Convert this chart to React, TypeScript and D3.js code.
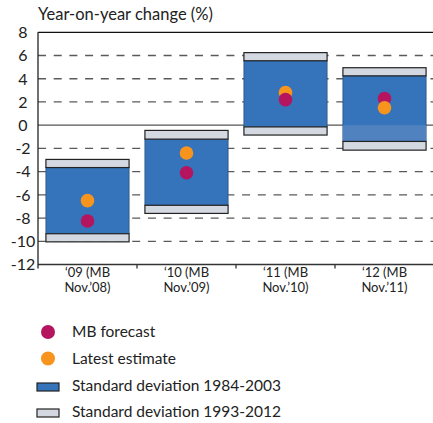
import React from "react";
import * as d3 from "d3";

const categoriesLine1 = ["‘09 (MB", "‘10 (MB", "‘11 (MB", "‘12 (MB"];
const categoriesLine2 = ["Nov.’08)", "Nov.’09)", "Nov.’10)", "Nov.’11)"];
const sd8403Low = [-9.35, -6.9, -0.15, -1.4];
const sd8403High = [-3.65, -1.2, 5.55, 4.25];
const sd9312Low = [-10.05, -7.6, -0.85, -2.15];
const sd9312High = [-2.95, -0.45, 6.25, 4.95];
const mbForecast = [-8.25, -4.1, 2.2, 2.3];
const latestEstimate = [-6.5, -2.4, 2.8, 1.5];
const yTicks = [8, 6, 4, 2, 0, -2, -4, -6, -8, -10, -12];
const legendLabels = ["MB forecast", "Latest estimate", "Standard deviation 1984-2003", "Standard deviation 1993-2012"];

const W = 433;
const H = 423;
const FONT = "Lato, 'Open Sans', sans-serif";
const BLUE = "#3574bb";
const BLUE_LIGHT = "#5082c0";
const GREY = "#d4d9e1";
const MAGENTA = "#b5145f";
const ORANGE = "#f7941e";

export default function App() {
  const left = 38;
  const right = 434;
  const top = 32.3;
  const bottom = 264.5;
  const x = d3.scaleBand<number>().domain(d3.range(categoriesLine1.length)).range([left, right]).padding(0);
  const y = d3.scaleLinear().domain([-12, 8]).range([bottom, top]);
  const bw = x.bandwidth() * 0.84;
  const r = 6.8;
  const fadedIndex = 3;

  return (
    <svg width={W} height={H} style={{ position: "absolute", left: 0, top: 0, fontFamily: FONT }}>
      <rect x={0} y={0} width={W} height={H} fill="#fff" />
      <text x={left} y={20} fontSize={16.5} fill="#222">Year-on-year change (%)</text>
      {yTicks.map((t) => (
        <g key={t}>
          <text x={23} y={y(t)} dy="0.36em" textAnchor="middle" fontSize={16} fill="#222">{t}</text>
          {t !== 8 && t !== 0 && t !== -12 && (
            <line x1={left} x2={right} y1={y(t)} y2={y(t)} stroke="#5a5a5a" strokeWidth={1.3} strokeDasharray="8,7.7" />
          )}
        </g>
      ))}
      <line x1={left} x2={right} y1={y(0)} y2={y(0)} stroke="#555" strokeWidth={1.2} />
      <line x1={left} x2={right} y1={y(8)} y2={y(8)} stroke="#111" strokeWidth={1.3} />
      <line x1={left} x2={right} y1={y(-12)} y2={y(-12)} stroke="#333" strokeWidth={1.3} />
      <line x1={left} x2={left} y1={y(8)} y2={y(-12) + 4} stroke="#222" strokeWidth={1.3} />
      {d3.range(1, categoriesLine1.length).map((i) => (
        <line key={i} x1={x(i)!} x2={x(i)!} y1={y(-12)} y2={y(-12) + 4} stroke="#333" strokeWidth={1.3} />
      ))}
      {categoriesLine1.map((c, i) => {
        const cx = x(i)! + x.bandwidth() / 2;
        const bx = cx - bw / 2;
        return (
          <g key={c}>
            <rect x={bx} y={y(sd8403High[i])} width={bw} height={y(sd8403Low[i]) - y(sd8403High[i])} fill={BLUE} stroke="#2a4f7e" strokeWidth={0.8} />
            {i === fadedIndex && sd8403Low[i] < 0 && (
              <rect x={bx} y={y(0)} width={bw} height={y(sd8403Low[i]) - y(0)} fill={BLUE_LIGHT} />
            )}
            <rect x={bx} y={y(sd9312High[i])} width={bw} height={y(sd8403High[i]) - y(sd9312High[i])} fill={GREY} stroke="#222" strokeWidth={1.2} />
            <rect x={bx} y={y(sd8403Low[i])} width={bw} height={y(sd9312Low[i]) - y(sd8403Low[i])} fill={GREY} stroke="#222" strokeWidth={1.2} />
            {Math.abs(latestEstimate[i] - mbForecast[i]) < 1 && latestEstimate[i] > mbForecast[i] ? (
              <>
                <circle cx={cx} cy={y(latestEstimate[i])} r={r} fill={ORANGE} />
                <circle cx={cx} cy={y(mbForecast[i])} r={r} fill={MAGENTA} />
              </>
            ) : (
              <>
                <circle cx={cx} cy={y(mbForecast[i])} r={r} fill={MAGENTA} />
                <circle cx={cx} cy={y(latestEstimate[i])} r={r} fill={ORANGE} />
              </>
            )}
            <text x={cx} y={276.5} textAnchor="middle" fontSize={13} fill="#222">{c}</text>
            <text x={cx} y={292.2} textAnchor="middle" fontSize={13} fill="#222">{categoriesLine2[i]}</text>
          </g>
        );
      })}
      <g>
        <circle cx={48} cy={332} r={7} fill={MAGENTA} />
        <text x={72} y={337} fontSize={15.5} fill="#222">{legendLabels[0]}</text>
        <circle cx={48} cy={358.5} r={7} fill={ORANGE} />
        <text x={72} y={364} fontSize={15.5} fill="#222">{legendLabels[1]}</text>
        <rect x={37} y={383} width={22} height={8} fill={BLUE} stroke="#222" strokeWidth={1.2} />
        <text x={72} y={391} fontSize={15.5} fill="#222">{legendLabels[2]}</text>
        <rect x={37} y={409} width={22} height={8} fill={GREY} stroke="#222" strokeWidth={1.2} />
        <text x={72} y={417} fontSize={15.5} fill="#222">{legendLabels[3]}</text>
      </g>
    </svg>
  );
}
